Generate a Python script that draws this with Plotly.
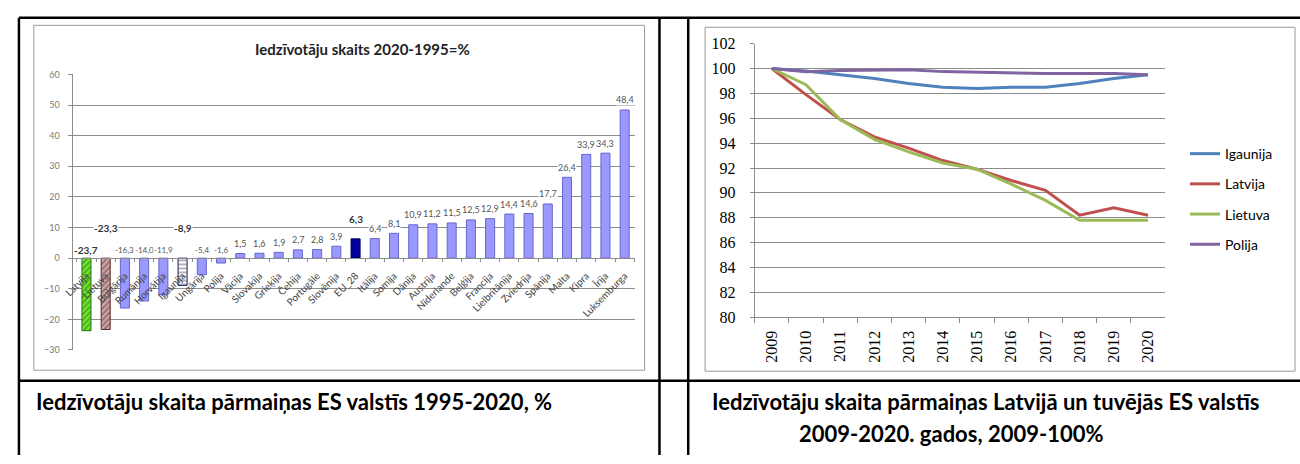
import plotly.graph_objects as go

W, H = 1300, 464

# ---------------- Data: left chart ----------------
countries = ["Latvija", "Lietuva", "Bulgārija", "Rumānija", "Horvātija", "Igaunija",
             "Ungārija", "Polija", "Vācija", "Slovakija", "Grieķija", "Čehija",
             "Portugāle", "Slovēnija", "EU_28", "Itālija", "Somija", "Dānija",
             "Austrija", "Nīderlande", "Beļģija", "Francija", "Lielbritānija",
             "Zviedrija", "Spānija", "Malta", "Kipra", "Īrija", "Luksemburga"]
change_pct = [-23.7, -23.3, -16.3, -14.0, -11.9, -8.9, -5.4, -1.6, 1.5, 1.6, 1.9, 2.7,
              2.8, 3.9, 6.3, 6.4, 8.1, 10.9, 11.2, 11.5, 12.5, 12.9, 14.4, 14.6,
              17.7, 26.4, 33.9, 34.3, 48.4]
highlight = ["Latvija", "Lietuva", "Igaunija", "EU_28"]
label_on_gridline = ["Lietuva", "Igaunija"]

# ---------------- Data: right chart ----------------
years = [str(y) for y in range(2009, 2021)]
igaunija = [100, 99.8, 99.5, 99.2, 98.8, 98.5, 98.4, 98.5, 98.5, 98.8, 99.2, 99.5]
latvija = [100, 97.9, 95.9, 94.5, 93.6, 92.6, 91.9, 91.0, 90.2, 88.2, 88.8, 88.2]
lietuva = [100, 98.7, 95.9, 94.3, 93.3, 92.4, 91.9, 90.7, 89.4, 87.8, 87.8, 87.8]
polija = [100, 99.75, 99.85, 99.9, 99.9, 99.75, 99.7, 99.6, 99.6, 99.6, 99.6, 99.5]


def px_x(p):
    return p / W


def px_y(p):
    return 1 - p / H


# bar styles
fill, pshape, pfg, pbg, lcol = [], [], [], [], []
for c in countries:
    if c == "Latvija":
        fill.append("#66ee22"); pshape.append("/"); pfg.append("#1f5a00"); pbg.append("#77ff33"); lcol.append("#2f6f10")
    elif c == "Lietuva":
        fill.append("#a07070"); pshape.append("/"); pfg.append("#6a2a2a"); pbg.append("#c09a9a"); lcol.append("#5a2a2a")
    elif c == "Igaunija":
        fill.append("#ffffff"); pshape.append("-"); pfg.append("#1a1a60"); pbg.append("#ffffff"); lcol.append("#1a1a60")
    elif c == "EU_28":
        fill.append("#000099"); pshape.append(""); pfg.append("#000099"); pbg.append("#000099"); lcol.append("#000060")
    else:
        fill.append("#9999ff"); pshape.append(""); pfg.append("#9999ff"); pbg.append("#9999ff"); lcol.append("#6666cc")

fig = go.Figure()
fig.add_trace(go.Bar(
    x=countries, y=change_pct, xaxis="x", yaxis="y", showlegend=False,
    marker=dict(color=fill, line=dict(color=lcol, width=1),
                pattern=dict(shape=pshape, fgcolor=pfg, bgcolor=pbg, size=4, solidity=0.4)),
    width=0.47,
))

line_series = [("Igaunija", igaunija, "#4f81bd"), ("Latvija", latvija, "#c0504d"),
               ("Lietuva", lietuva, "#9bbb59"), ("Polija", polija, "#8064a2")]
for name, vals, col in line_series:
    fig.add_trace(go.Scatter(x=years, y=vals, name=name, mode="lines", xaxis="x2", yaxis="y2",
                             line=dict(color=col, width=3), legendgroup=name))

# left axes geometry
ly_top, ly_bot = px_y(69), px_y(355)
yr = [-30, 60]
zero_pos = ly_bot + (0 - yr[0]) / (yr[1] - yr[0]) * (ly_top - ly_bot)

annotations = []
for c, v in zip(countries, change_pct):
    txt = f"{v:.1f}".replace(".", ",")
    bold = c in highlight
    if c in label_on_gridline:
        yv, ys = 10, 0
    else:
        yv, ys = max(v, 0), (8 if v < 0 else 10)
        if c == "EU_28":
            ys = 20
    annotations.append(dict(
        x=c, y=yv, xref="x", yref="y", yshift=ys, showarrow=False,
        text=f"<b>{txt}</b>" if bold else txt,
        font=dict(family="Lato", size=10 if bold else (8 if v < 0 else 9),
                  color="#333333" if bold else "#555555"),
        bgcolor="white", borderpad=0,
    ))

cap_font = dict(family="Lato", size=22, color="#000")
annotations += [
    dict(x=px_x(355), y=px_y(43), xref="paper", yref="paper", showarrow=False,
         xanchor="center", yanchor="middle",
         text="<b>Iedzīvotāju skaits 2020-1995=%</b>", font=dict(family="Lato", size=15, color="#222")),
    dict(x=px_x(23), y=px_y(408), xref="paper", yref="paper", showarrow=False,
         xanchor="left", yanchor="middle",
         text="<b>Iedzīvotāju skaita pārmaiņas ES valstīs 1995-2020, %</b>", font=cap_font),
    dict(x=px_x(705), y=px_y(408), xref="paper", yref="paper", showarrow=False,
         xanchor="left", yanchor="middle",
         text="<b>Iedzīvotāju skaita pārmaiņas Latvijā un tuvējās ES valstīs</b>", font=cap_font),
    dict(x=px_x(793), y=px_y(442), xref="paper", yref="paper", showarrow=False,
         xanchor="left", yanchor="middle",
         text="<b>2009-2020. gados, 2009-100%</b>", font=cap_font),
]

shapes = []
# chart panels
for (x0, y0, x1, y1) in [(23, 18, 639, 376), (700, 20, 1295, 377)]:
    shapes.append(dict(type="rect", xref="paper", yref="paper", x0=px_x(x0), x1=px_x(x1),
                       y0=px_y(y1), y1=px_y(y0), line=dict(color="#9a9a9a", width=1), layer="below"))
# table lines
for (x0, y0, x1, y1) in [(8, 10, 1300, 10), (8, 10, 8, 464), (654, 10, 654, 464),
                         (683, 10, 683, 464), (8, 387, 1300, 387)]:
    shapes.append(dict(type="line", xref="paper", yref="paper", x0=px_x(x0), x1=px_x(x1),
                       y0=px_y(y0), y1=px_y(y1), line=dict(color="black", width=2.5)))

fig.update_layout(
    width=W, height=H, margin=dict(l=0, r=0, t=0, b=0),
    paper_bgcolor="white", plot_bgcolor="white",
    font=dict(family="Lato"),
    bargap=0.53,
    xaxis=dict(domain=[px_x(63), px_x(629)], anchor="free", position=zero_pos, type="category",
               tickangle=-45, tickfont=dict(family="Lato", size=10, color="#444"),
               showline=True, linecolor="#8c8c8c", ticks="outside", ticklen=3, tickcolor="#8c8c8c",
               tickson="boundaries", showgrid=False, fixedrange=True, ticklabelstandoff=7),
    yaxis=dict(domain=[ly_bot, ly_top], range=yr, dtick=10, showgrid=True, gridcolor="#8c8c8c",
               zeroline=False, showline=True, linecolor="#8c8c8c", ticks="outside", ticklen=4,
               tickcolor="#8c8c8c", tickfont=dict(family="Lato", size=9, color="#7a7a7a"),
               anchor="x", ticklabelstandoff=7),
    xaxis2=dict(domain=[px_x(750), px_x(1164)], anchor="y2", type="category", tickangle=-90,
                range=[-0.5, len(years) - 0.5],
                tickfont=dict(family="Liberation Serif", size=16, color="#000"),
                showline=True, linecolor="#8c8c8c", ticks="outside", ticklen=5, tickcolor="#8c8c8c",
                tickson="boundaries", showgrid=False, ticklabelstandoff=6),
    yaxis2=dict(domain=[px_y(321), px_y(37)], range=[80, 102], dtick=2, showgrid=True,
                gridcolor="#8c8c8c", zeroline=False, showline=True, linecolor="#8c8c8c",
                ticks="outside", ticklen=4, tickcolor="#8c8c8c",
                tickfont=dict(family="Liberation Serif", size=16, color="#000"), anchor="x2",
                ticklabelstandoff=11),
    legend=dict(x=px_x(1184), y=px_y(135), xanchor="left", yanchor="top",
                font=dict(family="Lato", size=14, color="#000"), traceorder="grouped",
                tracegroupgap=9, bgcolor="rgba(0,0,0,0)", itemwidth=30),
    annotations=annotations, shapes=shapes,
)

fig.write_html("out.html", post_script="document.body.style.margin='0';")
